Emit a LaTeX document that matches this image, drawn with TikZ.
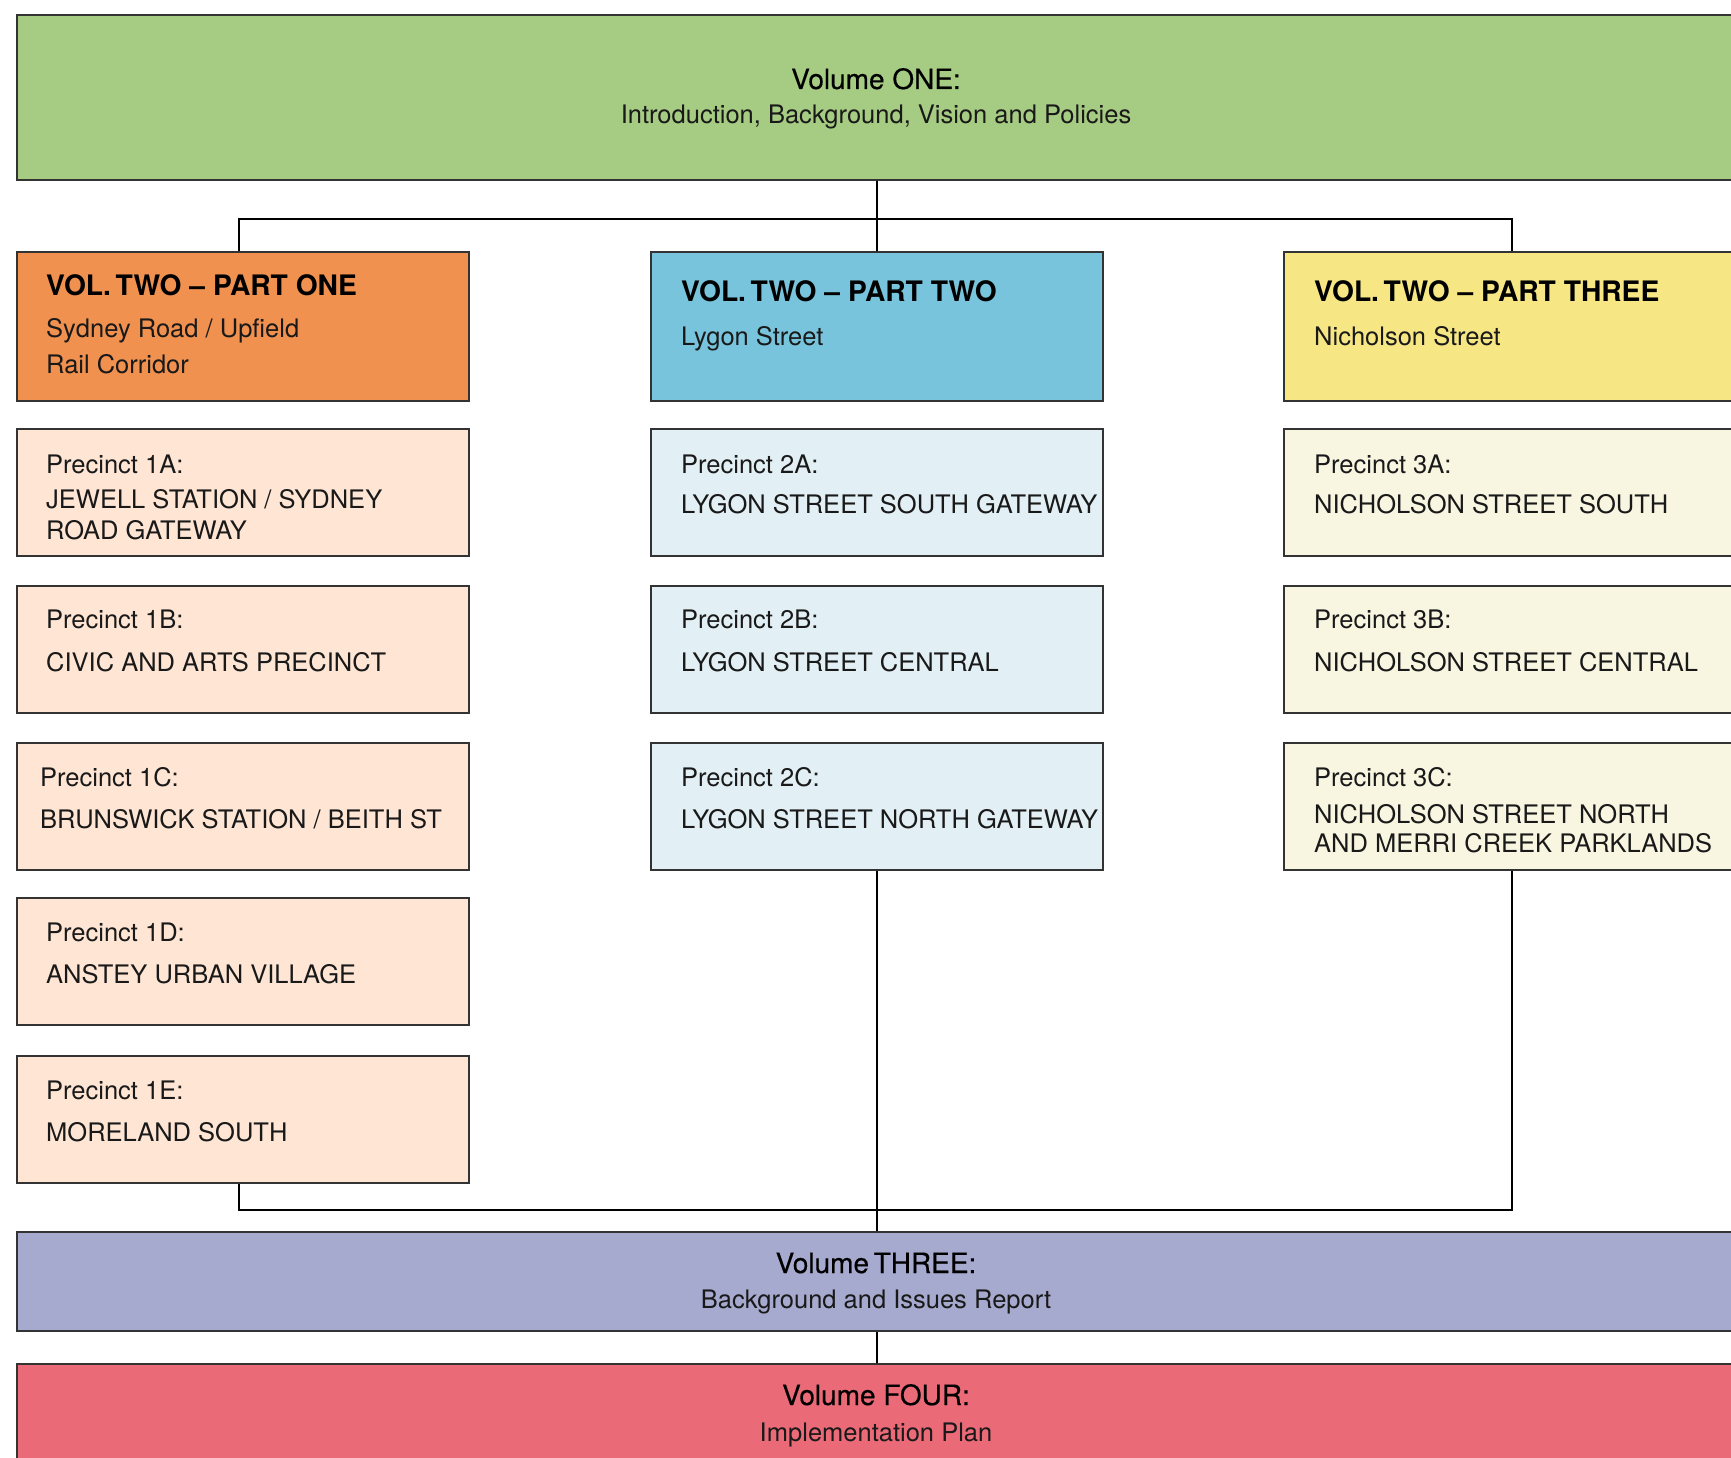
\documentclass[tikz,border=0pt]{standalone}
\usepackage{fontspec}
\setmainfont{TeX Gyre Heros}
\definecolor{cGreen}{HTML}{A6CB82}
\definecolor{cOrange}{HTML}{F0914F}
\definecolor{cPeach}{HTML}{FEE5D4}
\definecolor{cBlue}{HTML}{78C4DC}
\definecolor{cLBlue}{HTML}{E2EFF4}
\definecolor{cYellow}{HTML}{F7E784}
\definecolor{cLYellow}{HTML}{F8F5E1}
\definecolor{cLav}{HTML}{A7AACF}
\definecolor{cRed}{HTML}{EB6A78}
\begin{document}
\begin{tikzpicture}[x=1pt,y=-1pt,
  box/.style={draw=black!80, line width=1.8pt, minimum width=452pt, minimum height=127pt, anchor=north west, inner sep=0pt},
  headbox/.style={box, minimum height=149pt},
  wide/.style={draw=black!80, line width=1.8pt, minimum width=1720pt, anchor=north west, inner sep=0pt},
  body/.style={font=\fontsize{25.5}{30}\selectfont, anchor=base west, inner sep=0pt, text=black!90},
  headtxt/.style={font=\fontsize{28.2}{32}\selectfont\bfseries, anchor=base west, inner sep=0pt, text=black},
  ctxt/.style={font=\fontsize{25.5}{30}\selectfont, anchor=base, inner sep=0pt, text=black!90},
  ttxt/.style={font=\fontsize{28}{32}\selectfont\addfontfeature{FakeBold=0.4}, anchor=base, inner sep=0pt, text=black},
  conn/.style={draw=black, line width=1.5pt}]
\useasboundingbox (0,0) rectangle (1731,1458);
\clip (0,0) rectangle (1731,1458);
\fill[white] (0,0) rectangle (1731,1458);

% Volume ONE
\node[wide, fill=cGreen, minimum height=165pt] (v1) at (16,14) {};
\node[ttxt] (v1a) at (876,89) {Volume ONE:};
\node[ctxt] (v1b) at (876,124) {Introduction, Background, Vision and Policies};

% Headers
\node[headbox, fill=cOrange] (h1) at (16,251) {};
\node[headbox, fill=cBlue] (h2) at (650,251) {};
\node[headbox, fill=cYellow] (h3) at (1283,251) {};
\node[headtxt] (h1a) at (46,295) {VOL.\,TWO – PART ONE};
\node[body] (h1b) at (46,337) {Sydney Road / Upfield};
\node[body] (h1c) at (46,373) {Rail Corridor};
\node[headtxt] (h2a) at (681,301) {VOL.\,TWO – PART TWO};
\node[body] (h2b) at (681,345) {Lygon Street};
\node[headtxt] (h3a) at (1314,301) {VOL.\,TWO – PART THREE};
\node[body] (h3b) at (1314,345) {Nicholson Street};

% Column 1 precincts
\node[box, fill=cPeach] (p1a) at (16,428) {};
\node[box, fill=cPeach] (p1b) at (16,585) {};
\node[box, fill=cPeach] (p1c) at (16,742) {};
\node[box, fill=cPeach] (p1d) at (16,897) {};
\node[box, fill=cPeach] (p1e) at (16,1055) {};
\node[body] (t1a1) at (46,473) {Precinct 1A:};
\node[body] (t1a2) at (46,508) {JEWELL STATION / SYDNEY};
\node[body] (t1a3) at (46,539) {ROAD GATEWAY};
\node[body] (t1b1) at (46,628) {Precinct 1B:};
\node[body] (t1b2) at (46,671) {CIVIC AND ARTS PRECINCT};
\node[body] (t1c1) at (40,786) {Precinct 1C:};
\node[body] (t1c2) at (40,828) {BRUNSWICK STATION / BEITH ST};
\node[body] (t1d1) at (46,941) {Precinct 1D:};
\node[body] (t1d2) at (46,983) {ANSTEY URBAN VILLAGE};
\node[body] (t1e1) at (46,1099) {Precinct 1E:};
\node[body] (t1e2) at (46,1141) {MORELAND SOUTH};

% Column 2 precincts
\node[box, fill=cLBlue] (p2a) at (650,428) {};
\node[box, fill=cLBlue] (p2b) at (650,585) {};
\node[box, fill=cLBlue] (p2c) at (650,742) {};
\node[body] (t2a1) at (681,473) {Precinct 2A:};
\node[body] (t2a2) at (681,513) {LYGON STREET SOUTH GATEWAY};
\node[body] (t2b1) at (681,628) {Precinct 2B:};
\node[body] (t2b2) at (681,671) {LYGON STREET CENTRAL};
\node[body] (t2c1) at (681,786) {Precinct 2C:};
\node[body] (t2c2) at (681,828) {LYGON STREET NORTH GATEWAY};

% Column 3 precincts
\node[box, fill=cLYellow] (p3a) at (1283,428) {};
\node[box, fill=cLYellow] (p3b) at (1283,585) {};
\node[box, fill=cLYellow] (p3c) at (1283,742) {};
\node[body] (t3a1) at (1314,473) {Precinct 3A:};
\node[body] (t3a2) at (1314,513) {NICHOLSON STREET SOUTH};
\node[body] (t3b1) at (1314,628) {Precinct 3B:};
\node[body] (t3b2) at (1314,671) {NICHOLSON STREET CENTRAL};
\node[body] (t3c1) at (1314,786) {Precinct 3C:};
\node[body] (t3c2) at (1314,823) {NICHOLSON STREET NORTH};
\node[body] (t3c3) at (1314,852) {AND MERRI CREEK PARKLANDS};

% Volume THREE and FOUR
\node[wide, fill=cLav, minimum height=99pt] (v3) at (16,1231) {};
\node[ttxt] (v3a) at (876,1273) {Volume\,THREE:};
\node[ctxt] (v3b) at (876,1308) {Background and Issues Report};
\node[wide, fill=cRed, minimum height=104pt] (v4) at (16,1363) {};
\node[ttxt] (v4a) at (876,1405) {Volume FOUR:};
\node[ctxt] (v4b) at (876,1441) {Implementation Plan};

% Connectors
\coordinate (hlt) at (0,219);
\coordinate (hlb) at (0,1210);
\coordinate (jt) at (v1.south |- hlt);
\coordinate (jb) at (p2c.south |- hlb);
\draw[conn] (v1.south) -- (jt);
\draw[conn] ([xshift=-4pt]h1.north) |- (jt) -| ([xshift=2pt]h3.north);
\draw[conn] (jt) -- (h2.north);
\draw[conn] ([xshift=-4pt]p1e.south) |- (jb) -| ([xshift=2pt]p3c.south);
\draw[conn] (p2c.south) -- (v3.north);
\draw[conn] (v3.south) -- (v4.north);
\end{tikzpicture}
\end{document}
